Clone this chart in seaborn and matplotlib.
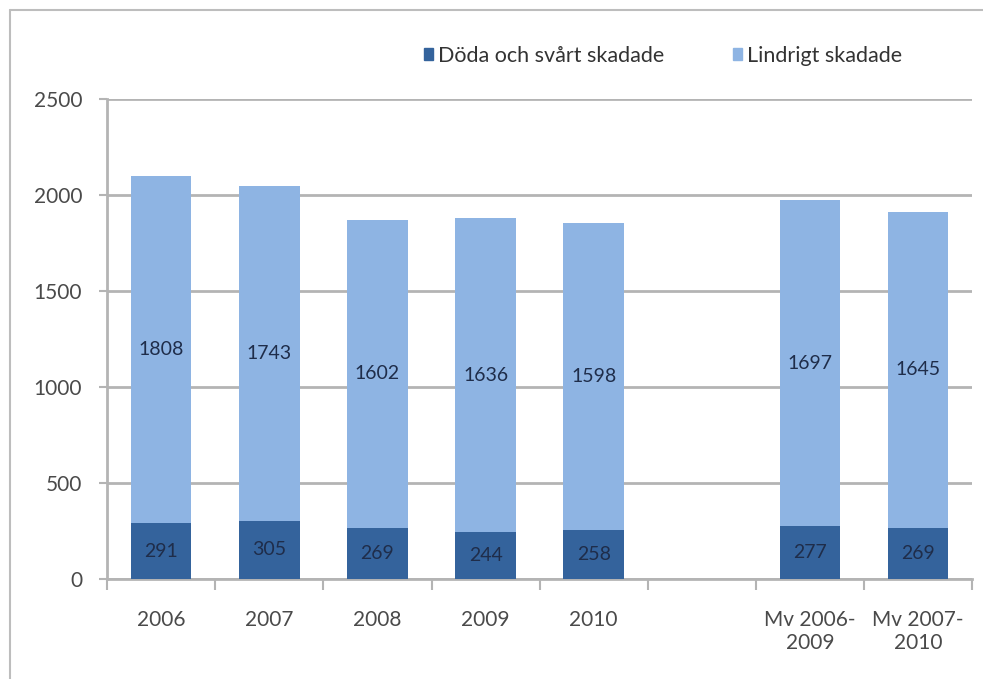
"""
plot.py

Staplat stapeldiagram: döda/svårt skadade och lindrigt skadade per år,
samt medelvärden (Mv) för två fyraårsperioder.
"""

import numpy as np
import pandas as pd
import matplotlib.pyplot as plt
import seaborn as sns
from matplotlib.lines import Line2D
from matplotlib.patches import Patch

# =========================
# Data
# =========================

categories = ["2006", "2007", "2008", "2009", "2010", "Mv 2006-2009", "Mv 2007-2010"]
tick_labels = ["2006", "2007", "2008", "2009", "2010", "", "Mv 2006-\n2009", "Mv 2007-\n2010"]
doda_svart = [291, 305, 269, 244, 258, 277, 269]
lindrigt = [1808, 1743, 1602, 1636, 1598, 1697, 1645]

series_names = ["Döda och svårt skadade", "Lindrigt skadade"]
y_ticks = [0, 500, 1000, 1500, 2000, 2500]

DARK = "#34639C"
LIGHT = "#8EB4E3"
GRID = "#B4B4B4"
TEXT = "#4A4A4A"
LABEL = "#1F2D4A"


def main():
    sns.set_style("white")
    plt.rcParams["font.family"] = ["Lato", "DejaVu Sans"]

    df = pd.DataFrame({
        "kategori": categories,
        "doda": doda_svart,
        "lindrigt": lindrigt,
    })
    df["total"] = df["doda"] + df["lindrigt"]

    # tom plats mellan 2010 och medelvärdena
    order = categories[:5] + [" "] + categories[5:]

    fig = plt.figure(figsize=(9.83, 6.79), dpi=100)
    ax = fig.add_axes([0.109, 0.147, 0.880, 0.707])

    sns.barplot(data=df, x="kategori", y="total", order=order,
                color=LIGHT, width=0.56, saturation=1, linewidth=0, ax=ax, zorder=3)
    sns.barplot(data=df, x="kategori", y="doda", order=order,
                color=DARK, width=0.56, saturation=1, linewidth=0, ax=ax, zorder=3)

    # etiketter i staplarna
    for _, row in df.iterrows():
        x = order.index(row["kategori"])
        ax.text(x, row["doda"] / 2, f"{row['doda']}", ha="center", va="center",
                fontsize=14, color=LABEL, zorder=4)
        ax.text(x, row["doda"] + row["lindrigt"] / 2, f"{row['lindrigt']}",
                ha="center", va="center", fontsize=14, color=LABEL, zorder=4)

    ax.set_ylim(0, 2500)
    ax.set_xlim(-0.5, len(order) - 0.5)
    ax.set_yticks(y_ticks)
    ax.set_yticklabels([str(v) for v in y_ticks])
    ax.set_xticks(range(len(order)))
    ax.set_xticklabels(tick_labels)
    ax.set_xticks(np.arange(-0.5, len(order), 1.0), minor=True)
    ax.set_xlabel("")
    ax.set_ylabel("")

    ax.yaxis.grid(True, color=GRID, linewidth=2, zorder=0)
    ax.set_axisbelow(True)

    ax.tick_params(axis="x", which="major", length=0, pad=22, labelsize=15,
                   colors=TEXT, bottom=True)
    ax.tick_params(axis="x", which="minor", length=8, width=1.5, color=GRID,
                   direction="out", bottom=True)
    ax.tick_params(axis="y", length=6, width=1.5, color=GRID, pad=12, labelsize=15,
                   labelcolor=TEXT, left=True)

    for side in ["top", "right"]:
        ax.spines[side].set_visible(False)
    for side in ["left", "bottom"]:
        ax.spines[side].set_color(GRID)
        ax.spines[side].set_linewidth(2)

    # förklaring
    handles = [Patch(color=DARK), Patch(color=LIGHT)]
    fig.legend(handles, series_names, loc="center left", bbox_to_anchor=(0.431, 0.918),
               ncol=2, frameon=False, fontsize=15.5, handlelength=0.45, handleheight=0.45,
               handletextpad=0.2, columnspacing=3.2, borderaxespad=0, borderpad=0,
               labelcolor="#333333")

    # ram kring diagrammet
    fig.add_artist(Line2D([10 / 983, 10 / 983], [0, 1 - 10 / 679],
                          transform=fig.transFigure, color="#BDBDBD", linewidth=1.5))
    fig.add_artist(Line2D([10 / 983, 1], [1 - 10 / 679, 1 - 10 / 679],
                          transform=fig.transFigure, color="#BDBDBD", linewidth=1.5))

    fig.savefig("out.png", dpi=100, facecolor="white")
    plt.close(fig)


if __name__ == "__main__":
    main()
